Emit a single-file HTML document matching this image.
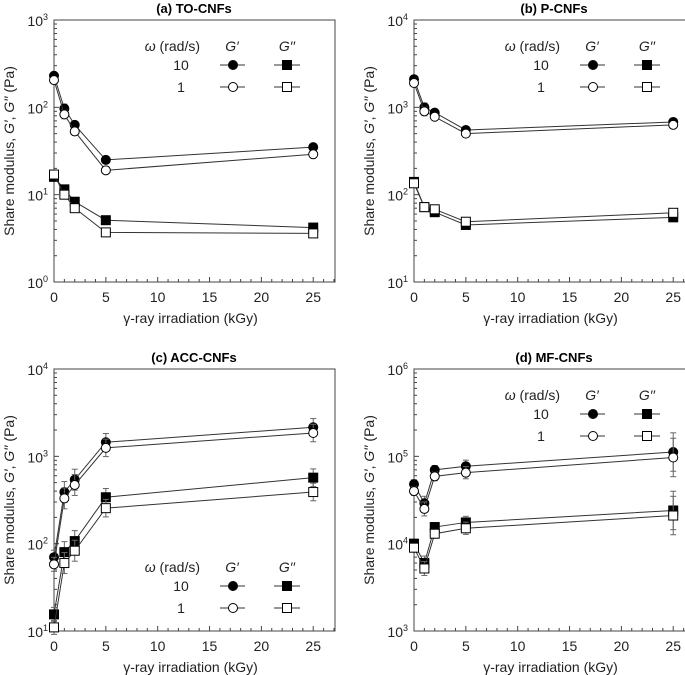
<!DOCTYPE html>
<html><head><meta charset="utf-8"><style>
body{margin:0;background:#fff;}
svg{display:block;font-family:"Liberation Sans",Arial,sans-serif;}
</style></head><body>
<svg id="fig" width="685" height="675" viewBox="0 0 685 675" xmlns="http://www.w3.org/2000/svg"></svg>
<script>
const xVals=[0,1,2,5,25];
const xTicks=[0,5,10,15,20,25];
const titles=["(a) TO-CNFs","(b) P-CNFs","(c) ACC-CNFs","(d) MF-CNFs"];
const yMinExp=[0,1,1,3];
const yMaxExp=[3,4,4,6];
// panel a
const aGp10=[230,97,63,25,35], aGp1=[205,83,53,19,29], aGpp10=[16,11.5,8.3,5.1,4.2], aGpp1=[17,10,7,3.7,3.6];
// panel b
const bGp10=[2100,1000,870,550,680], bGp1=[1900,900,780,500,630], bGpp10=[140,72,63,45,55], bGpp1=[135,72,68,49,62];
// panel c
const cGp10=[70,390,540,1450,2150], cGp1=[58,330,470,1250,1850], cGpp10=[15.5,80,107,340,570], cGpp1=[11,60,83,255,390];
const cErr=[0.08,0.12,0.12,0.1,0.1];
// panel d
const dGp10=[48000,29000,70000,77000,112000], dGp1=[40000,25000,59000,65000,97000], dGpp10=[10000,6000,15500,17500,24000], dGpp1=[9000,5200,13000,15000,21000];
const dErr=[0.05,0.08,0.05,0.07,0.22];
const smallErr=[0.04,0.05,0.04,0.04,0.03];

const panels=[
 {left:54,top:20,data:[aGp10,aGp1,aGpp10,aGpp1],err:smallErr,leg:26},
 {left:414,top:20,data:[bGp10,bGp1,bGpp10,bGpp1],err:smallErr,leg:26},
 {left:54,top:369,data:[cGp10,cGp1,cGpp10,cGpp1],err:cErr,leg:198},
 {left:414,top:369,data:[dGp10,dGp1,dGpp10,dGpp1],err:dErr,leg:26}
];
const W=281,H=262,XMAX=27.1;
const NS="http://www.w3.org/2000/svg";
const svg=document.getElementById('fig');
function mk(tag,attrs,parent,text){const e=document.createElementNS(NS,tag);for(const k in attrs)e.setAttribute(k,attrs[k]);if(text!==undefined)e.textContent=text;(parent||svg).appendChild(e);return e;}
function marker(g,x,y,kind,filled){
  if(kind==='c') return mk('circle',{cx:x,cy:y,r:4.5,fill:filled?'#000':'#fff',stroke:'#000','stroke-width':1},g);
  return mk('rect',{x:x-4.5,y:y-4.5,width:9,height:9,fill:filled?'#000':'#fff',stroke:'#000','stroke-width':1},g);
}
panels.forEach((p,i)=>{
  const g=mk('g',{});
  
  
  const lo=yMinExp[i],hi=yMaxExp[i];
  const X=v=>p.left+v/XMAX*W;
  const Y=v=>p.top+H-(Math.log10(v)-lo)/(hi-lo)*H;
  const t=mk('text',{x:p.left+140,y:p.top-7,'text-anchor':'middle','font-size':13,'font-weight':'bold'},g,titles[i]);
  
  
  mk('rect',{x:p.left,y:p.top,width:W,height:H,fill:'none',stroke:'#444','stroke-width':1},g);
  for(let v=0;v<=XMAX;v++){const len=v%5===0?5:3;mk('line',{x1:X(v),x2:X(v),y1:p.top+H,y2:p.top+H-len,stroke:'#444'},g);}
  xTicks.forEach(v=>{const tl=mk('text',{x:X(v),y:p.top+H+20,'text-anchor':'middle','font-size':14,fill:'#222'},g,String(v));
    });
  for(let e=lo;e<=hi;e++){
    const tl=mk('text',{x:p.left-6,y:Y(Math.pow(10,e))+6,'text-anchor':'end','font-size':14,fill:'#222'},g);
    
    mk('tspan',{},tl,'10');mk('tspan',{dy:-6,'font-size':9},tl,String(e));
    if(e<hi){for(let m=1;m<10;m++){const yy=Y(m*Math.pow(10,e));mk('line',{x1:p.left,x2:p.left+(m===1?5:3),y1:yy,y2:yy,stroke:'#444'},g);}}
  }
  const xl=mk('text',{x:p.left+W/2-4,y:p.top+H+41,'text-anchor':'middle','font-size':14,fill:'#222'},g,'γ-ray irradiation (kGy)');
  
  const yl=mk('text',{x:0,y:0,transform:`translate(${p.left-40},${p.top+H/2}) rotate(-90)`,'text-anchor':'middle','font-size':14,fill:'#222'},g);
  
  mk('tspan',{},yl,'Share modulus, ');mk('tspan',{'font-style':'italic'},yl,'G′');mk('tspan',{},yl,', ');mk('tspan',{'font-style':'italic'},yl,'G′′');mk('tspan',{},yl,' (Pa)');
  const kinds=[['c',true],['c',false],['s',true],['s',false]];
  p.data.forEach((arr,si)=>{
    const sg=mk('g',{},g);
    
    
    mk('polyline',{points:arr.map((v,k)=>X(xVals[k])+','+Y(v)).join(' '),fill:'none',stroke:'#333','stroke-width':1},sg);
    arr.forEach((v,k)=>{const e=p.err[k];const y1=Y(v*Math.pow(10,e)),y2=Y(v/Math.pow(10,e));const x=X(xVals[k]);
      mk('line',{x1:x,x2:x,y1:y1,y2:y2,stroke:'#666'},sg);mk('line',{x1:x-3,x2:x+3,y1:y1,y2:y1,stroke:'#666'},sg);mk('line',{x1:x-3,x2:x+3,y1:y2,y2:y2,stroke:'#666'},sg);});
    arr.forEach((v,k)=>marker(sg,X(xVals[k]),Y(v),kinds[si][0],kinds[si][1]));
  });
  const lg=mk('g',{},g);
  
  const ly=p.top+p.leg;
  const h=mk('text',{x:p.left+146,y:ly+5,'text-anchor':'end','font-size':14,fill:'#222'},lg);
  mk('tspan',{'font-style':'italic'},h,'ω');mk('tspan',{},h,' (rad/s)');
  mk('text',{x:p.left+178,y:ly+5,'text-anchor':'middle','font-size':14,'font-style':'italic',fill:'#222'},lg,'G′');
  mk('text',{x:p.left+233,y:ly+5,'text-anchor':'middle','font-size':14,'font-style':'italic',fill:'#222'},lg,'G′′');
  [[19,'10',true],[41,'1',false]].forEach(([dy,lab,f])=>{
    const yy=ly+dy;
    mk('text',{x:p.left+127,y:yy+5,'text-anchor':'middle','font-size':14,fill:'#222'},lg,lab);
    mk('line',{x1:p.left+166,x2:p.left+191,y1:yy,y2:yy,stroke:'#333'},lg);marker(lg,p.left+179,yy,'c',f);
    mk('line',{x1:p.left+220,x2:p.left+246,y1:yy,y2:yy,stroke:'#333'},lg);marker(lg,p.left+233,yy,'s',f);
  });
});
</script>
</body></html>
